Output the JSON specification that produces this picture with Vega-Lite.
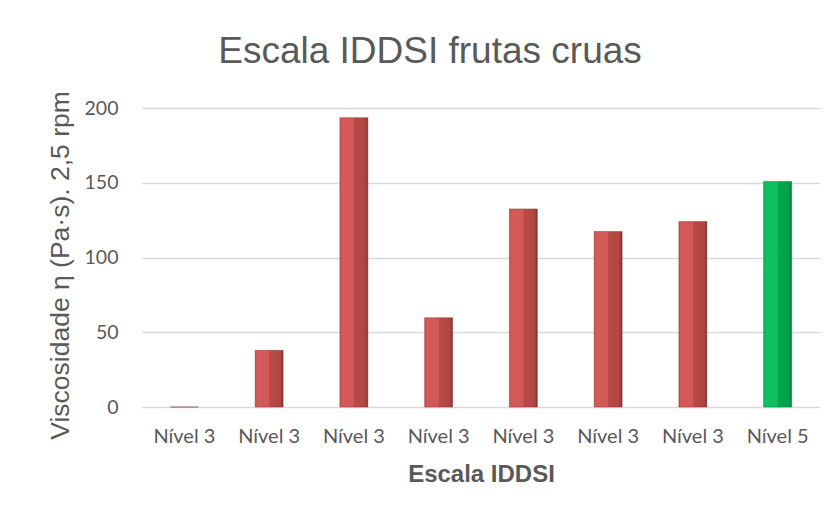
{
  "$schema": "https://vega.github.io/schema/vega-lite/v6.json",
  "width": 678,
  "height": 299,
  "autosize": {"type": "none"},
  "padding": {"left": 142, "top": 108, "right": 16, "bottom": 109},
  "background": "white",
  "title": {
    "text": "Escala IDDSI frutas cruas",
    "font": "Liberation Sans",
    "fontSize": 37,
    "fontWeight": "normal",
    "color": "#595959",
    "baseline": "alphabetic",
    "offset": -9,
    "dx": -51
  },
  "config": {
    "view": {"stroke": null},
    "axis": {"grid": false, "ticks": false, "domain": false}
  },
  "data": {
    "values": [
      {"idx": 1, "nivel": "Nível 3", "v": 0},
      {"idx": 2, "nivel": "Nível 3", "v": 37.9},
      {"idx": 3, "nivel": "Nível 3", "v": 193.5},
      {"idx": 4, "nivel": "Nível 3", "v": 59.7},
      {"idx": 5, "nivel": "Nível 3", "v": 132.5},
      {"idx": 6, "nivel": "Nível 3", "v": 117.4},
      {"idx": 7, "nivel": "Nível 3", "v": 124},
      {"idx": 8, "nivel": "Nível 5", "v": 150.8}
    ]
  },
  "encoding": {
    "x": {
      "field": "idx",
      "type": "ordinal",
      "scale": {"paddingInner": 0.67, "paddingOuter": 0.335},
      "axis": {
        "labelAngle": 0,
        "labelExpr": "datum.value == 8 ? 'Nível 5' : 'Nível 3'",
        "labelFont": "Lato",
        "labelFontSize": 20,
        "labelColor": "#595959",
        "labelPadding": 19,
        "title": "Escala IDDSI",
        "titleFont": "Liberation Sans",
        "titleFontSize": 24,
        "titleFontWeight": "bold",
        "titleColor": "#595959",
        "titlePadding": 16
      }
    },
    "y": {
      "field": "v",
      "type": "quantitative",
      "scale": {"domain": [0, 200], "nice": false},
      "axis": {
        "values": [0, 50, 100, 150, 200],
        "grid": true,
        "gridColor": "#d9d9d9",
        "gridWidth": 1.5,
        "labelFont": "Lato",
        "labelFontSize": 19.5,
        "labelColor": "#595959",
        "labelPadding": 24,
        "title": "Viscosidade η (Pa·s). 2,5 rpm",
        "titleFont": "Liberation Sans",
        "titleFontSize": 26.5,
        "titleFontWeight": "normal",
        "titleColor": "#595959",
        "titleBaseline": "alphabetic",
        "titleX": -74,
        "titleY": 157
      }
    }
  },
  "layer": [
    {
      "transform": [{"filter": "datum.nivel == 'Nível 3'"}],
      "mark": {
        "type": "bar",
        "stroke": "#8c3836",
        "strokeWidth": 0.5,
        "color": {
          "gradient": "linear", "x1": 0, "x2": 1, "y1": 0, "y2": 0,
          "stops": [
            {"offset": 0, "color": "#c9504e"},
            {"offset": 0.1, "color": "#d45b59"},
            {"offset": 0.5, "color": "#d15856"},
            {"offset": 0.51, "color": "#b84a47"},
            {"offset": 0.9, "color": "#b04643"},
            {"offset": 1, "color": "#7a302e"}
          ]
        }
      }
    },
    {
      "transform": [{"filter": "datum.nivel == 'Nível 5'"}],
      "mark": {
        "type": "bar",
        "stroke": "#00803a",
        "strokeWidth": 0.5,
        "color": {
          "gradient": "linear", "x1": 0, "x2": 1, "y1": 0, "y2": 0,
          "stops": [
            {"offset": 0, "color": "#05b452"},
            {"offset": 0.1, "color": "#0bc45e"},
            {"offset": 0.5, "color": "#0bc05c"},
            {"offset": 0.51, "color": "#00a84c"},
            {"offset": 0.9, "color": "#00a04a"},
            {"offset": 1, "color": "#007a36"}
          ]
        }
      }
    }
  ]
}
